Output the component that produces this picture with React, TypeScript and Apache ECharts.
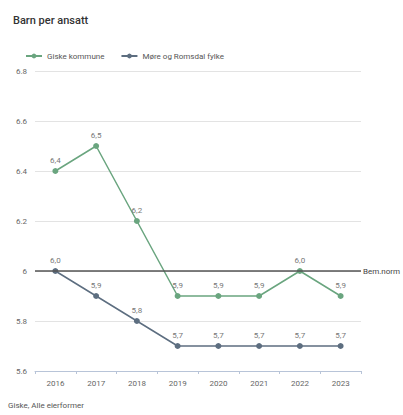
import React, { useEffect, useRef } from "react";
import * as echarts from "echarts";

const years = ["2016", "2017", "2018", "2019", "2020", "2021", "2022", "2023"];
const giske = [6.4, 6.5, 6.2, 5.9, 5.9, 5.9, 6.0, 5.9];
const fylke = [6.0, 5.9, 5.8, 5.7, 5.7, 5.7, 5.7, 5.7];
const norm = 6;
const seriesNames = ["Giske kommune", "Møre og Romsdal fylke"];

const GREEN = "#6aa57f";
const SLATE = "#5d6e80";
const FONT = "Roboto, 'Noto Sans', sans-serif";

export default function App() {
  const ref = useRef<HTMLDivElement>(null);
  useEffect(() => {
    const chart = echarts.init(ref.current!, undefined, { renderer: "svg" });
    const fmt = (p: any) => Number(p.value).toFixed(1).replace(".", ",");
    chart.setOption({
      animation: false,
      textStyle: { fontFamily: FONT },
      title: {
        text: "Barn per ansatt",
        left: 8,
        top: 10,
        textStyle: { fontSize: 11, fontWeight: 500, color: "#333", fontFamily: FONT },
      },
      legend: {
        left: 20,
        top: 47,
        itemWidth: 16,
        itemHeight: 6,
        itemGap: 16,
        textStyle: { fontSize: 8, color: "#555" },
        data: seriesNames,
      },
      grid: { left: 35, right: 42, top: 71, bottom: 44 },
      xAxis: {
        type: "category",
        data: years,
        boundaryGap: true,
        axisLine: { lineStyle: { color: "#b8c4d8" } },
        axisTick: { show: true, length: 3, lineStyle: { color: "#b8c4d8" } },
        axisLabel: { fontSize: 8, color: "#666", margin: 8 },
      },
      yAxis: {
        type: "value",
        min: 5.6,
        max: 6.8,
        interval: 0.2,
        axisLabel: { fontSize: 8, color: "#666", margin: 8 },
        splitLine: { lineStyle: { color: "#e3e3e3" } },
        axisLine: { show: false },
        axisTick: { show: false },
      },
      series: [
        {
          name: seriesNames[0],
          type: "line",
          data: giske,
          color: GREEN,
          symbol: "circle",
          symbolSize: 6,
          lineStyle: { width: 1.5 },
          label: { show: true, position: "top", fontSize: 8, color: "#777", formatter: fmt, distance: 4 },
          z: 3,
        },
        {
          name: seriesNames[1],
          type: "line",
          data: fylke,
          color: SLATE,
          symbol: "circle",
          symbolSize: 6,
          lineStyle: { width: 1.5 },
          label: { show: true, position: "top", fontSize: 8, color: "#777", formatter: fmt, distance: 4 },
          markLine: {
            silent: true,
            symbol: "none",
            lineStyle: { color: "#555", width: 1.5, type: "solid" },
            label: { show: true, position: "end", formatter: "Bem.norm", fontSize: 8, color: "#444", distance: 2 },
            data: [{ yAxis: norm }],
          },
          z: 3,
        },
      ],
      graphic: [
        {
          type: "text",
          left: 8,
          top: 401,
          style: { text: "Giske, Alle eierformer", fontSize: 8, fill: "#555", fontFamily: FONT },
        },
      ],
    });
    return () => chart.dispose();
  }, []);
  return <div ref={ref} style={{ position: "absolute", left: 0, top: 0, width: 403, height: 415 }} />;
}
